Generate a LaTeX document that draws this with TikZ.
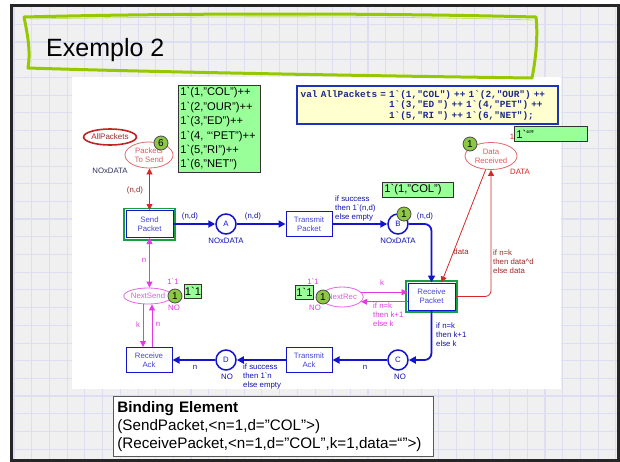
\documentclass[tikz,border=0pt]{standalone}
\usepackage{fontspec}
\newfontfamily\arialfont{Liberation Sans}
\newfontfamily\courfont{Liberation Mono}
\usetikzlibrary{shapes.geometric,arrows.meta,positioning}

\definecolor{cpnblue}{RGB}{20,20,205}
\definecolor{cpntext}{RGB}{70,70,215}
\definecolor{cpnred}{RGB}{215,40,40}
\definecolor{redtext}{RGB}{225,90,90}
\definecolor{darkred}{RGB}{160,40,40}
\definecolor{cpnmag}{RGB}{225,60,225}
\definecolor{magtext}{RGB}{215,100,215}
\definecolor{enabled}{RGB}{20,160,60}
\definecolor{tokfill}{RGB}{140,200,70}
\definecolor{boxfill}{RGB}{153,255,153}
\definecolor{codefill}{RGB}{255,255,208}
\definecolor{codeline}{RGB}{30,50,190}
\definecolor{codetext}{RGB}{30,40,140}
\definecolor{slidebg}{RGB}{240,240,240}
\definecolor{gridcol}{RGB}{222,222,242}
\definecolor{titlegreen}{RGB}{150,200,0}
\definecolor{colset}{RGB}{50,50,90}

\newcommand{\netfont}{\arialfont\fontsize{7.8}{9}\selectfont}
\newcommand{\codefont}{\courfont\bfseries\fontsize{9.4}{10.5}\selectfont
    \fontdimen2\font=0.6em\fontdimen3\font=0pt\fontdimen4\font=0pt}

\begin{document}
\begin{tikzpicture}[x=1pt, y=-1pt,
    every node/.style={font=\netfont, inner sep=0pt},
    trans/.style={
        draw=cpnblue,
        line width=1pt,
        fill=white,
        text=cpntext,
        align=center,
        font=\arialfont\fontsize{7.8}{8.8}\selectfont,
        minimum width=46pt,
        minimum height=25pt
    },
    place/.style={circle, draw=cpnblue, line width=1.5pt, fill=white,
        minimum size=20pt, text=cpnblue},
    redplace/.style n args={2}{ellipse, draw=cpnred!70, line width=0.8pt,
        fill=white, text=redtext, align=center,
        minimum width=#1, minimum height=#2},
    magplace/.style n args={2}{ellipse, draw=cpnmag!80, line width=0.8pt,
        fill=white, text=magtext, minimum width=#1, minimum height=#2},
    token/.style={circle, draw=black!70, line width=0.8pt, fill=tokfill,
        minimum size=14pt, font=\arialfont\fontsize{10}{10}\selectfont},
    greenbox/.style={draw=black!80, line width=0.8pt, fill=boxfill,
        font=\arialfont\fontsize{11.2}{14.4}\selectfont, align=left,
        inner xsep=2pt, anchor=north west},
    bluelab/.style={text=cpnblue!85!black},
    redlab/.style={text=darkred},
    maglab/.style={text=cpnmag},
    bluearc/.style={draw=cpnblue, line width=1.8pt, -{Triangle[length=7pt,width=7pt]}},
    redarc/.style={draw=cpnred, line width=0.8pt, -{Triangle[length=6pt,width=6pt]}},
    magarc/.style={draw=cpnmag, line width=0.8pt, -{Triangle[length=6pt,width=6pt]}},
    redboth/.style={redarc, {Triangle[length=6pt,width=6pt]}-{Triangle[length=6pt,width=6pt]}},
    magboth/.style={magarc, {Triangle[length=6pt,width=6pt]}-{Triangle[length=6pt,width=6pt]}}
]
% --- slide sizes (pure numbers, unit px = pt) ---
\def\W{620}
\def\H{461}
\def\yTop{224}   % upper row of the net
\def\yBot{360}   % lower row of the net

% ---- slide background ----
\useasboundingbox (0,0) rectangle (\W,\H);
\fill[white] (0,0) rectangle (\W,\H);
\fill[slidebg] (11,5) rectangle (618,460);
\begin{scope}
    \clip (11,5) rectangle (618,460);
    \foreach \i in {0,...,34}{
        \pgfmathsetmacro{\gx}{14+17.7*\i}
        \ifodd\i \def\gw{0.6pt}\else\def\gw{1.3pt}\fi
        \draw[gridcol, line width=\gw] (\gx,5) -- (\gx,460);
    }
    \foreach \j in {0,...,26}{
        \pgfmathsetmacro{\gy}{6.6+17.7*\j}
        \ifodd\j \def\gw{0.6pt}\else\def\gw{1.3pt}\fi
        \draw[gridcol, line width=\gw] (11,\gy) -- (618,\gy);
    }
\end{scope}
\draw[line width=3pt, black!85] (11,5) rectangle (618,460);

% ---- white diagram area ----
\fill[white] (72,77) rectangle (561,389);

% ---- title ----
\draw[titlegreen, line width=3pt, line cap=round, line join=round]
    (24,17) .. controls (180,13) and (380,13) .. (536,17)
    .. controls (538,35) and (536,58) .. (532,78)
    .. controls (380,76) and (150,72) .. (28,68)
    .. controls (31,50) and (27,32) .. (24,17);
\draw[titlegreen!55, line width=0.8pt]
    (30,19) .. controls (200,16) and (400,16) .. (533,20);
\node[anchor=base west, font=\arialfont\fontsize{25}{30}\selectfont]
    (title) at (46,56) {Exemplo 2};

% ---- places ----
\node[ellipse, draw=cpnred!90!black, line width=1.6pt, fill=white,
    minimum width=45pt, minimum height=16pt, text=darkred,
    font=\arialfont\fontsize{8}{9}\selectfont]
    (AP) at (110,137) {AllPackets};
\node[redplace={48pt}{26pt}, font=\arialfont\fontsize{7.8}{9.3}\selectfont]
    (PTS) at (149,155) {Packets\\To Send};
\node[redplace={52pt}{27pt}, font=\arialfont\fontsize{7.8}{9.3}\selectfont]
    (DR) at (491,156) {Data\\Received};
\node[magplace={47pt}{16pt}] (NS) at (148,296) {NextSend};
\node[magplace={40pt}{20pt}] (NR) at (342,297) {NextRec};
\node[place] (A) at (226,\yTop) {A};
\node[place] (B) at (398,\yTop) {B};
\node[place] (C) at (398,\yBot) {C};
\node[place] (D) at (226,\yBot) {D};

% ---- transitions ----
\node[trans, minimum width=47pt, minimum height=27pt]
    (SP) at (149.5,\yTop) {Send\\Packet};
\node[trans] (TP) at (309,\yTop) {Transmit\\Packet};
\node[trans, minimum width=47pt, minimum height=27pt]
    (RP) at (431.5,296.5) {Receive\\Packet};
\node[trans] (RA) at (149,\yBot) {Receive\\Ack};
\node[trans] (TA) at (309,\yBot) {Transmit\\Ack};
% enabled transitions get a green frame
\draw[enabled, line width=1.8pt]
    ([xshift=-1.6pt,yshift=1.6pt]SP.north west) rectangle ([xshift=1.6pt,yshift=-1.6pt]SP.south east);
\draw[enabled, line width=1.8pt]
    ([xshift=-1.6pt,yshift=1.6pt]RP.north west) rectangle ([xshift=1.6pt,yshift=-1.6pt]RP.south east);

% ---- colour sets ----
\node[text=colset] (csPTS) at (110,171) {NOxDATA};
\node[bluelab] (csA) at (226,241) {NOxDATA};
\node[bluelab] (csB) at (398,241) {NOxDATA};
\node[redlab, text=cpnred] (csDR) at (520,172) {DATA};
\node[maglab] (csNS) at (174,308) {NO};
\node[maglab] (csNR) at (315,308) {NO};
\node[bluelab] (csC) at (400,377) {NO};
\node[bluelab] (csD) at (227,377) {NO};

% ---- arcs, upper row ----
\draw[redboth] (SP.north) -- (SP.north |- PTS.south);
\node[redlab] (lSPPTS) at (135,190) {(n,d)};
\draw[bluearc] (SP) -- (A);
\node[bluelab] (lSPA) at (190,216) {(n,d)};
\draw[bluearc] (A) -- (TP);
\node[bluelab] (lATP) at (253,216) {(n,d)};
\draw[bluearc] (TP) -- (B);
\node[bluelab, anchor=north west, align=left] (lTPB) at (335,195.5)
    {if success\\then 1`(n,d)\\else empty};
\draw[bluearc, rounded corners=7pt] (B) -| (RP);
\node[bluelab] (lBRP) at (425,216) {(n,d)};

% ---- arcs, right side ----
\coordinate (rpd) at ([xshift=10pt]RP.north);
\draw[redarc] (DR) -- (rpd);
\node[redlab] (lDRRP) at (461,252) {data};
\draw[redarc, rounded corners=6pt] (RP) -| (DR);
\node[redlab, anchor=north west, align=left] (lRPDR) at (493,249.5)
    {if n=k\\then data\textasciicircum d\\else data};
\draw[magarc] (NR.14) -- (NR.14 -| RP.west);
\node[maglab] (lNRRP) at (382,283) {k};
\draw[magarc] (RP.west |- NR.-14) -- (NR.-14);
\node[maglab, anchor=north west, align=left] (lRPNR) at (373,302.5)
    {if n=k\\then k+1\\else k};

% ---- arcs, lower row ----
\draw[bluearc, rounded corners=7pt] (RP) |- (C);
\node[bluelab, anchor=north west, align=left] (lRPC) at (436,322.5)
    {if n=k\\then k+1\\else k};
\draw[bluearc] (C) -- (TA);
\node[bluelab] (lCTA) at (365,367) {n};
\draw[bluearc] (TA) -- (D);
\node[bluelab, anchor=north west, align=left] (lTAD) at (243,363.5)
    {if success\\then 1`n\\else empty};
\draw[bluearc] (D) -- (RA);
\node[bluelab] (lDRA) at (195,367) {n};

% ---- arcs, left side ----
\draw[magboth] (SP.south) -- (SP.south |- NS.north);
\node[maglab] (lSPNS) at (144,260) {n};
\coordinate (nsk) at ([xshift=-5pt]NS.south);
\coordinate (nsn) at ([xshift=4pt]NS.south);
\draw[magarc] (nsk) -- (nsk |- RA.north);
\node[maglab] (lNSRA) at (138,325) {k};
\draw[magarc] (nsn |- RA.north) -- (nsn);
\node[maglab] (lRANS) at (158,324) {n};

% ---- initial markings ----
\node[maglab] (imNS) at (173,282) {1`1};
\node[maglab] (imNR) at (313,282) {1`1};
\node[text=cpnred] (imDR) at (512,137) {1};

% ---- tokens ----
\node[token] (tPTS) at (161,143) {6};
\node[token] (tB) at (404,214) {1};
\node[token] (tNS) at (175,296) {1};
\node[token] (tNR) at (323,297) {1};
\node[token] (tDR) at (470,144) {1};

% ---- current markings ----
\node[greenbox, text width=78pt, minimum height=87pt] (mPTS) at (178,85)
    {1`(1,”COL”)++\\1`(2,”OUR”)++\\1`(3,”ED”)++\\1`(4, “‘PET”)++\\1`(5,”RI”)++\\1`(6,”NET”)};
\node[greenbox, text width=67pt, minimum height=15pt] (mB) at (382,182)
    {1`(1,”COL”)};
\node[greenbox, inner xsep=0.5pt, minimum width=17pt, minimum height=14pt] (mNS) at (184,284) {1`1};
\node[greenbox, inner xsep=0.5pt, minimum width=18pt, minimum height=14pt] (mNR) at (295,285) {1`1};
\node[greenbox, text width=69pt, minimum height=15pt] (mDR) at (514,126) {1`“”};

% ---- declaration ----
\node[anchor=north west, draw=codeline, line width=2.4pt, fill=codefill,
    text=codetext, text width=254pt, inner xsep=3.5pt, minimum height=38pt,
    align=left, font=\codefont]
    (decl) at (296,85)
    {val AllPackets = 1`(1,"COL") ++ 1`(2,"OUR") ++\\
     \phantom{val AllPackets = }1`(3,"ED ") ++ 1`(4,"PET") ++\\
     \phantom{val AllPackets = }1`(5,"RI ") ++ 1`(6,"NET");};

% ---- binding element ----
\node[anchor=north west, draw=black!65, line width=0.8pt, fill=white,
    text width=312pt, inner xsep=4pt, minimum height=60pt, align=left,
    font=\arialfont\fontsize{15.2}{18}\selectfont]
    (bind) at (113,396)
    {\textbf{Binding Element}\\(SendPacket,<n=1,d=”COL”>)\\(ReceivePacket,<n=1,d=”COL”,k=1,data=“”>)};

\end{tikzpicture}
\end{document}
